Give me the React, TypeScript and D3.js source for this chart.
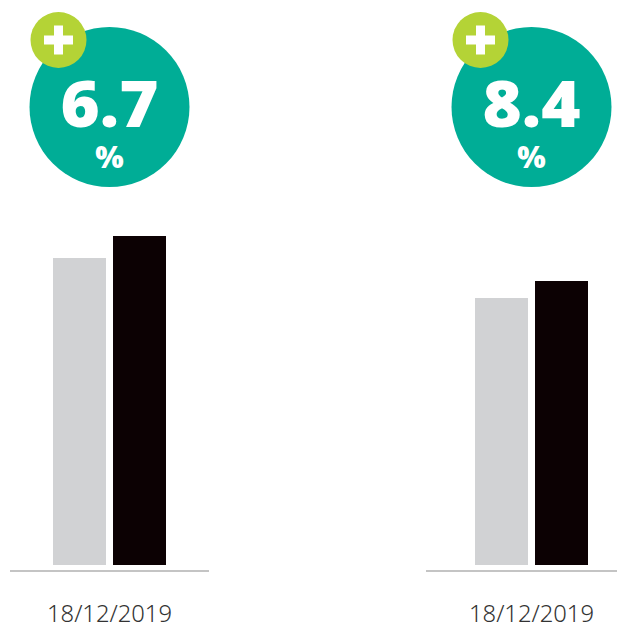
import React from 'react';
import * as d3 from 'd3';

// values (bar heights, arbitrary units)
const panels = ['first', 'second'];
const changeLabels = ['6.7', '8.4'];
const dateLabels = ['18/12/2019', '18/12/2019'];
const previousValues = [307, 267];
const currentValues = [329, 284];
const barKeys = ['previous', 'current'];

const colors = {
  teal: '#00ad96',
  lime: '#b4d336',
  previous: '#d1d2d4',
  current: '#0c0103',
  axis: '#8a8a8a',
  text: '#333333'
};

const W = 617;
const H = 626;

export default function App() {
  const px = d3.scalePoint<string>().domain(panels).range([109.5, 531.5]);
  const inner = d3.scaleBand<string>().domain(barKeys).range([-56.5, 56.5]).paddingInner(0.117).paddingOuter(0);
  const y = d3.scaleLinear().domain([0, 329]).range([565, 236]);

  return (
    <svg width={W} height={H} style={{ position: 'absolute', left: 0, top: 0, background: '#fff' }}>
      {panels.map((p, i) => {
        const cx = px(p)!;
        const vals = [previousValues[i], currentValues[i]];
        // the second baseline starts a little further left of its bars
        const lineLeft = i === 0 ? cx - 99.5 : cx - 105.5;
        return (
          <g key={p}>
            {/* badge */}
            <circle cx={cx} cy={107} r={80} fill={colors.teal} />
            <circle cx={cx - 51} cy={40} r={28} fill={colors.lime} />
            <rect x={cx - 51 - 14.5} y={40 - 4.5} width={29} height={9} fill="#fff" />
            <rect x={cx - 51 - 4.5} y={40 - 14.5} width={9} height={29} fill="#fff" />
            <text
              x={cx}
              y={127}
              textAnchor="middle"
              fill="#fff"
              fontFamily="'Open Sans', sans-serif"
              fontWeight={800}
              fontSize={63}
              textLength={98}
              lengthAdjust="spacingAndGlyphs"
            >
              {changeLabels[i]}
            </text>
            <text
              x={cx}
              y={168}
              textAnchor="middle"
              fill="#fff"
              fontFamily="'Open Sans', sans-serif"
              fontWeight={800}
              fontSize={30}
            >
              %
            </text>
            {/* bars */}
            {barKeys.map((k, j) => (
              <rect
                key={k}
                x={cx + inner(k)!}
                y={y(vals[j])}
                width={inner.bandwidth()}
                height={y(0) - y(vals[j])}
                fill={colors[k as 'previous' | 'current']}
              />
            ))}
            <line x1={lineLeft} x2={cx + 99.5} y1={571} y2={571} stroke={colors.axis} strokeWidth={1.2} />
            <text
              x={cx}
              y={622}
              textAnchor="middle"
              fill={colors.text}
              fontFamily="'Noto Sans', sans-serif"
              fontWeight={300}
              fontSize={23}
              textLength={125}
              lengthAdjust="spacingAndGlyphs"
            >
              {dateLabels[i]}
            </text>
          </g>
        );
      })}
    </svg>
  );
}
